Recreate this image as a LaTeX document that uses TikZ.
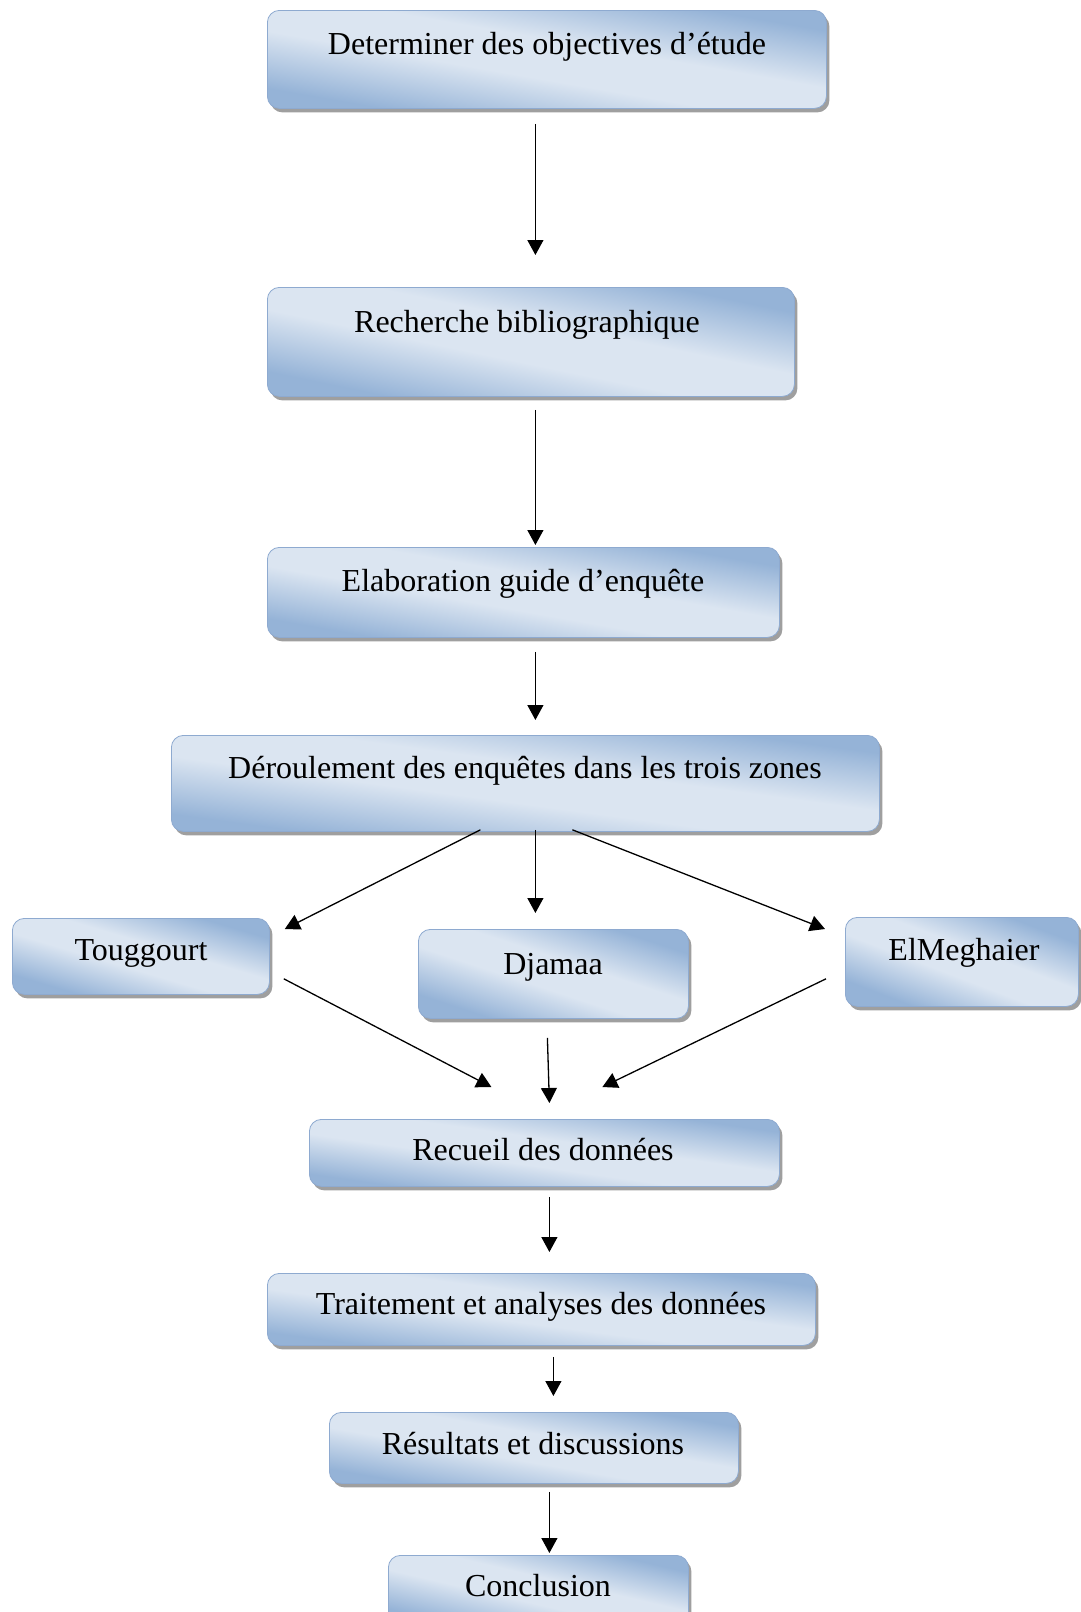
\documentclass[tikz,border=0pt]{standalone}
\usepackage{fontspec}
\setmainfont{Liberation Serif}
\usetikzlibrary{shadows,arrows.meta}
\definecolor{bdark}{HTML}{95B3D7}
\definecolor{blight}{HTML}{DBE5F1}
\definecolor{bedge}{HTML}{8EAAD0}
\pgfdeclareverticalshading{boxshade}{100bp}{color(0bp)=(bdark); color(27bp)=(bdark); color(44bp)=(blight); color(56bp)=(blight); color(73bp)=(bdark); color(100bp)=(bdark)}
\tikzset{
  box/.style={rounded corners=12pt, draw=bedge, line width=0.8pt,
    shading=boxshade, shading angle=#1,
    drop shadow={shadow xshift=3pt, shadow yshift=-4pt, fill=gray!75, opacity=1},
    anchor=north west, inner sep=0pt},
  lbl/.style={font=\fontsize{32}{38}\selectfont, anchor=mid, inner sep=0pt},
  arr/.style={line width=1.3pt, -{Triangle[width=16pt,length=15pt]}}
}
\begin{document}
\begin{tikzpicture}[x=1pt,y=-1pt]
\useasboundingbox (0,0) rectangle (1081,1612);
% boxes
\node[box=-9.9, minimum width=559pt, minimum height=98pt] (b1) at (267,10) {};
\node[box=-11.7, minimum width=527pt, minimum height=109pt] (b2) at (267,287) {};
\node[box=-10, minimum width=512pt, minimum height=90pt] (b3) at (267,547) {};
\node[box=-7.7, minimum width=708pt, minimum height=96pt] (b4) at (171,735) {};
\node[box=-16.5, minimum width=257pt, minimum height=76pt] (bt) at (12,918) {};
\node[box=-18.2, minimum width=270pt, minimum height=89pt] (bd) at (418,929) {};
\node[box=-20.9, minimum width=233pt, minimum height=89pt] (be) at (845,917) {};
\node[box=-8.1, minimum width=470pt, minimum height=67pt] (br) at (309,1119) {};
\node[box=-7.5, minimum width=548pt, minimum height=72pt] (bx) at (267,1273) {};
\node[box=-9.8, minimum width=409pt, minimum height=71pt] (bs) at (329,1412) {};
\node[box=-13.1, minimum width=300pt, minimum height=70pt] (bc) at (388,1555) {};
% labels
\node[lbl] (t1) at (547,52) {Determiner des objectives d’étude};
\node[lbl] (t2) at (527,330) {Recherche bibliographique};
\node[lbl] (t3) at (523,589) {Elaboration guide d’enquête};
\node[lbl] (t4) at (525,776) {Déroulement des enquêtes dans les trois zones};
\node[lbl] (tt) at (141,958) {Touggourt};
\node[lbl] (td) at (553,972) {Djamaa};
\node[lbl] (te) at (964,958) {ElMeghaier};
\node[lbl] (tr) at (543,1158) {Recueil des données};
\node[lbl] (tx) at (541,1312) {Traitement et analyses des données};
\node[lbl] (ts) at (533,1452) {Résultats et discussions};
\node[lbl] (tc) at (538,1594) {Conclusion};
% arrows
\draw[arr] ([xshift=-11.5pt,yshift=-15pt]b1.south) -- ([xshift=4.5pt,yshift=32pt]b2.north);
\draw[arr] ([xshift=4.5pt,yshift=-13pt]b2.south) -- ([xshift=12pt,yshift=2pt]b3.north);
\draw[arr] ([xshift=12pt,yshift=-14pt]b3.south) -- ([xshift=10pt,yshift=15pt]b4.north);
\draw[arr] ([xshift=-45pt,yshift=2pt]b4.south) -- ([xshift=15pt,yshift=-11pt]bt.north east);
\draw[arr] ([xshift=10pt,yshift=2pt]b4.south) -- ([xshift=-18pt,yshift=16pt]bd.north);
\draw[arr] ([xshift=47pt,yshift=2pt]b4.south) -- ([xshift=-20pt,yshift=-12pt]be.north west);
\draw[arr] ([xshift=14pt,yshift=16pt]bt.south east) -- ([xshift=-53pt,yshift=32pt]br.north);
\draw[arr] ([xshift=-6pt,yshift=-19pt]bd.south) -- ([xshift=5pt,yshift=16pt]br.north);
\draw[arr] ([xshift=-19pt,yshift=28pt]be.south west) -- ([xshift=58pt,yshift=32pt]br.north);
\draw[arr] ([xshift=5pt,yshift=-10pt]br.south) -- ([xshift=8pt,yshift=21pt]bx.north);
\draw[arr] ([xshift=12pt,yshift=-11pt]bx.south) -- ([xshift=19.5pt,yshift=16pt]bs.north);
\draw[arr] ([xshift=15.5pt,yshift=-8pt]bs.south) -- ([xshift=11pt,yshift=2pt]bc.north);
\end{tikzpicture}
\end{document}
